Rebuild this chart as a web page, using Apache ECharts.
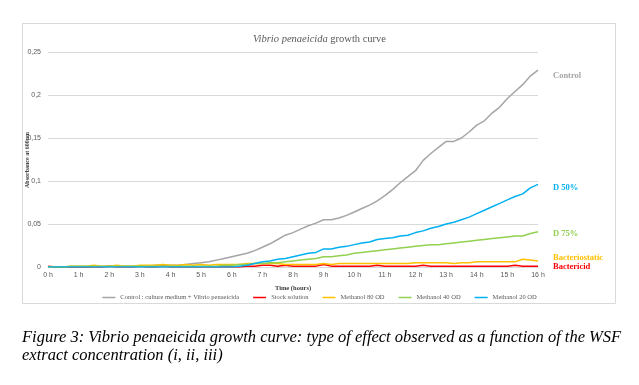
<!DOCTYPE html>
<html>
<head>
<meta charset="utf-8">
<script src="https://cdn.jsdelivr.net/npm/echarts@6/dist/echarts.min.js"></script>
<style>
html,body{margin:0;padding:0;background:#fff;}
#chart{width:639px;height:385px;}
</style>
</head>
<body>
<div id="chart"></div>
<script>
// Time points (hours), every 15 minutes
var hours = [];
for (var i = 0; i <= 64; i++) hours.push(i / 4);

var xTickLabels = ['0 h','1 h','2 h','3 h','4 h','5 h','6 h','7 h','8 h','9 h','10 h','11 h','12 h','13 h','14 h','15 h','16 h'];
var yTicks = [0, 0.05, 0.1, 0.15, 0.2, 0.25];

var seriesNames = ['Control : culture medium + Vibrio penaeicida', 'Stock solution', 'Methanol 80 OD', 'Methanol 40 OD', 'Methanol 20 OD'];
var seriesColors = ['#a5a5a5', '#ff0000', '#ffc000', '#92d050', '#00b0f0'];

var control = [
  0.000, 0.000, 0.000, 0.000,
  0.000, 0.000, 0.001, 0.000,
  0.001, 0.001, 0.001, 0.001,
  0.001, 0.001, 0.002, 0.002,
  0.002, 0.002, 0.003, 0.004,
  0.005, 0.006, 0.008, 0.010,
  0.012, 0.014, 0.016, 0.019,
  0.023, 0.027, 0.032, 0.037,
  0.040, 0.044, 0.048, 0.051,
  0.055, 0.055, 0.057, 0.060,
  0.064, 0.068, 0.072, 0.077,
  0.083, 0.090, 0.098, 0.105,
  0.112, 0.124, 0.132, 0.139,
  0.146, 0.146, 0.150, 0.157,
  0.165, 0.170, 0.179, 0.186,
  0.196, 0.204, 0.212, 0.222,
  0.229
];
var stockSolution = [
  0.001, 0.000, 0.000, 0.000,
  0.000, 0.000, 0.000, 0.000,
  0.001, 0.000, 0.000, 0.000,
  0.001, 0.000, 0.000, 0.001,
  0.000, 0.000, 0.000, 0.000,
  0.000, 0.000, 0.000, 0.000,
  0.000, 0.000, 0.001, 0.001,
  0.002, 0.002, 0.001, 0.002,
  0.001, 0.001, 0.001, 0.001,
  0.003, 0.001, 0.001, 0.001,
  0.001, 0.001, 0.001, 0.002,
  0.001, 0.001, 0.001, 0.001,
  0.001, 0.002, 0.001, 0.001,
  0.001, 0.001, 0.001, 0.001,
  0.001, 0.001, 0.001, 0.001,
  0.001, 0.002, 0.001, 0.001,
  0.001
];
var methanol80 = [
  0.000, 0.000, 0.000, 0.001,
  0.001, 0.001, 0.002, 0.001,
  0.001, 0.002, 0.001, 0.001,
  0.002, 0.002, 0.002, 0.003,
  0.002, 0.002, 0.003, 0.002,
  0.003, 0.002, 0.003, 0.003,
  0.003, 0.003, 0.004, 0.004,
  0.004, 0.004, 0.004, 0.003,
  0.003, 0.003, 0.003, 0.003,
  0.004, 0.003, 0.004, 0.004,
  0.004, 0.004, 0.004, 0.004,
  0.004, 0.004, 0.004, 0.004,
  0.005, 0.005, 0.005, 0.005,
  0.005, 0.004, 0.005, 0.005,
  0.006, 0.006, 0.006, 0.006,
  0.006, 0.006, 0.009, 0.008,
  0.007
];
var methanol40 = [
  0.000, 0.000, 0.000, 0.001,
  0.001, 0.001, 0.001, 0.001,
  0.001, 0.001, 0.001, 0.001,
  0.001, 0.001, 0.001, 0.001,
  0.001, 0.001, 0.001, 0.001,
  0.001, 0.001, 0.001, 0.002,
  0.002, 0.003, 0.003, 0.004,
  0.004, 0.005, 0.005, 0.006,
  0.007, 0.008, 0.009, 0.010,
  0.012, 0.012, 0.013, 0.014,
  0.016, 0.017, 0.018, 0.019,
  0.020, 0.021, 0.022, 0.023,
  0.024, 0.025, 0.026, 0.026,
  0.027, 0.028, 0.029, 0.030,
  0.031, 0.032, 0.033, 0.034,
  0.035, 0.036, 0.036, 0.039,
  0.041
];
var methanol20 = [
  0.000, 0.000, 0.000, 0.000,
  0.000, 0.000, 0.000, 0.000,
  0.000, 0.000, 0.000, 0.000,
  0.000, 0.000, 0.000, 0.000,
  0.000, 0.000, 0.000, 0.000,
  0.000, 0.000, 0.000, 0.000,
  0.000, 0.001, 0.002, 0.004,
  0.006, 0.007, 0.009, 0.010,
  0.012, 0.014, 0.016, 0.017,
  0.021, 0.021, 0.023, 0.024,
  0.026, 0.028, 0.029, 0.032,
  0.033, 0.034, 0.036, 0.037,
  0.040, 0.042, 0.045, 0.047,
  0.050, 0.052, 0.055, 0.058,
  0.062, 0.066, 0.070, 0.074,
  0.078, 0.082, 0.085, 0.092,
  0.096
];
var seriesValues = [control, stockSolution, methanol80, methanol40, methanol20];

var endLabels = ['Control', 'D 50%', 'D 75%', 'Bacteriostatic', 'Bactericid'];
var endLabelColors = ['#a5a5a5', '#00b0f0', '#92d050', '#ffc000', '#ff0000'];

var captionLines = [
  'Figure 3: Vibrio penaeicida growth curve: type of effect observed as a function of the WSF',
  'extract concentration (i, ii, iii)'
];

var SERIF = '"Liberation Serif", "Times New Roman", serif';
var SANS = '"Liberation Sans", Arial, sans-serif';

function pairs(vals) {
  return vals.map(function (v, i) { return [hours[i], v]; });
}

var chart = echarts.init(document.getElementById('chart'), null, {renderer: 'canvas'});

var series = seriesNames.map(function (name, k) {
  return {
    name: name,
    type: 'line',
    data: pairs(seriesValues[k]),
    symbol: 'none',
    smooth: false,
    lineStyle: {color: seriesColors[k], width: 1.5},
    itemStyle: {color: seriesColors[k]},
    z: 2 + k,
    animation: false
  };
});

var labelY = [76, 188, 234, 258.5, 267.5];
var graphics = [
  {type: 'rect', shape: {x: 22.5, y: 23.5, width: 593, height: 280}, style: {fill: 'none', stroke: '#d9d9d9', lineWidth: 1}, silent: true, z: 0},
  {type: 'text', x: 27.5, y: 160, rotation: Math.PI / 2,
   style: {text: 'Absorbance at 600nm', fill: '#404040', font: 'bold 6px ' + SERIF, align: 'center', verticalAlign: 'middle'}}
];
endLabels.forEach(function (t, k) {
  graphics.push({
    type: 'text', left: 553, top: labelY[k] - 5,
    style: {text: t, fill: endLabelColors[k], font: 'bold 8.5px ' + SERIF}
  });
});
captionLines.forEach(function (t, k) {
  graphics.push({
    type: 'text', left: 22, top: 329 + k * 18,
    style: {text: t, fill: '#000', font: 'italic 16.5px ' + SERIF}
  });
});

chart.setOption({
  backgroundColor: '#fff',
  animation: false,
  title: {
    text: '{i|Vibrio penaeicida}{n| growth curve}',
    left: 'center',
    top: 29,
    textStyle: {
      fontWeight: 'normal',
      fontSize: 10.5,
      rich: {
        i: {fontFamily: SERIF, fontStyle: 'italic', fontWeight: 'normal', fontSize: 10.5, color: '#595959'},
        n: {fontFamily: SERIF, fontWeight: 'normal', fontSize: 10.5, color: '#595959'}
      }
    }
  },
  legend: {
    data: seriesNames,
    left: 'center',
    top: 289,
    icon: 'rect',
    itemWidth: 13,
    itemHeight: 1.5,
    itemGap: 14,
    textStyle: {fontFamily: SERIF, fontSize: 6.5, color: '#595959'}
  },
  grid: {left: 48, right: 101, top: 52, bottom: 118, containLabel: false},
  xAxis: {
    type: 'value',
    min: 0, max: 16, interval: 1,
    name: 'Time (hours)',
    nameLocation: 'middle',
    nameGap: 18,
    nameTextStyle: {fontFamily: SERIF, fontWeight: 'bold', fontSize: 6.5, color: '#404040'},
    axisLine: {show: true, lineStyle: {color: '#d9d9d9'}},
    axisTick: {show: false},
    splitLine: {show: false},
    axisLabel: {
      margin: 5,
      fontFamily: SANS, fontSize: 7, color: '#595959',
      formatter: function (v) { return xTickLabels[Math.round(v)]; }
    }
  },
  yAxis: {
    type: 'value',
    min: 0, max: 0.25, interval: 0.05,
    axisLine: {show: false},
    axisTick: {show: false},
    splitLine: {show: true, lineStyle: {color: '#d9d9d9', width: 1}},
    axisLabel: {
      margin: 7,
      fontFamily: SANS, fontSize: 7, color: '#595959',
      formatter: function (v) {
        var best = yTicks.reduce(function (a, b) { return Math.abs(b - v) < Math.abs(a - v) ? b : a; });
        return String(best).replace('.', ',');
      }
    }
  },
  series: series,
  graphic: graphics
});
</script>
</body>
</html>
